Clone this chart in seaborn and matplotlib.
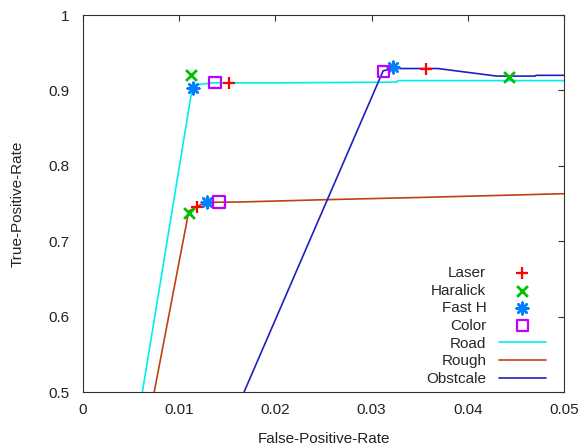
import matplotlib.pyplot as plt
import seaborn as sns

# --- ROC curves (FPR, TPR) ---
road_fpr = [0.00617, 0.0114, 0.0135, 0.020, 0.0326, 0.0327, 0.050]
road_tpr = [0.500, 0.907, 0.910, 0.910, 0.911, 0.913, 0.913]
rough_fpr = [0.0074, 0.0110, 0.01216, 0.0132, 0.0163, 0.025, 0.035, 0.050]
rough_tpr = [0.500, 0.740, 0.748, 0.7516, 0.752, 0.755, 0.758, 0.763]
obst_fpr = [0.01674, 0.0312, 0.0322, 0.0369, 0.0430, 0.0470, 0.0471, 0.050]
obst_tpr = [0.500, 0.926, 0.929, 0.929, 0.919, 0.919, 0.920, 0.920]

# --- operating points of each feature set (Road, Rough, Obstacle) ---
laser_fpr = [0.01518, 0.01185, 0.0357]
laser_tpr = [0.910, 0.746, 0.928]
haralick_fpr = [0.01123, 0.0110, 0.0443]
haralick_tpr = [0.920, 0.738, 0.918]
fasth_fpr = [0.01143, 0.0129, 0.0322]
fasth_tpr = [0.903, 0.752, 0.931]
color_fpr = [0.01372, 0.01414, 0.0312]
color_tpr = [0.910, 0.752, 0.925]

x_ticks = [0, 0.01, 0.02, 0.03, 0.04, 0.05]
x_labels = ["0", "0.01", "0.02", "0.03", "0.04", "0.05"]
y_ticks = [0.5, 0.6, 0.7, 0.8, 0.9, 1.0]
y_labels = ["0.5", "0.6", "0.7", "0.8", "0.9", "1"]

sns.set_style("white")
plt.rcParams["font.family"] = ["Liberation Sans", "DejaVu Sans"]
plt.rcParams["font.size"] = 11

fig = plt.figure(figsize=(5.79, 4.48), dpi=100)
ax = fig.add_axes([0.1434, 0.125, 0.8307, 0.8415])

# markers first so they come first in the legend
sns.scatterplot(x=laser_fpr, y=laser_tpr, marker="+", s=80, color="#ff0000",
                linewidth=1.6, label="Laser", ax=ax, zorder=3)
sns.scatterplot(x=haralick_fpr, y=haralick_tpr, marker="x", s=60, color="#00c000",
                linewidth=2.0, label="Haralick", ax=ax, zorder=3)
sns.scatterplot(x=fasth_fpr, y=fasth_tpr, marker=(8, 2, 0), s=70, color="#0080ff",
                linewidth=1.8, label="Fast H", ax=ax, zorder=3)
sns.scatterplot(x=color_fpr, y=color_tpr, marker="s", s=65, color="#c000ff",
                facecolor="none", edgecolor="#c000ff", linewidth=1.6,
                label="Color", ax=ax, zorder=3)

sns.lineplot(x=road_fpr, y=road_tpr, sort=False, color="#00eeee", linewidth=1.2,
             label="Road", ax=ax)
sns.lineplot(x=rough_fpr, y=rough_tpr, sort=False, color="#c04010", linewidth=1.2,
             label="Rough", ax=ax)
sns.lineplot(x=obst_fpr, y=obst_tpr, sort=False, color="#2020c0", linewidth=1.2,
             label="Obstcale", ax=ax)

ax.set_xlim(0, 0.05)
ax.set_ylim(0.5, 1.0)
ax.set_xticks(x_ticks)
ax.set_xticklabels(x_labels)
ax.set_yticks(y_ticks)
ax.set_yticklabels(y_labels)
ax.tick_params(direction="in", length=4, width=0.8, color="#333333",
               top=True, right=True, labelcolor="#222222")
ax.tick_params(axis="x", pad=8)
ax.tick_params(axis="y", pad=10)
for sp in ax.spines.values():
    sp.set_color("#333333")
    sp.set_linewidth(0.8)

ax.set_xlabel("False-Positive-Rate", color="#222222", labelpad=11)
ax.set_ylabel("True-Positive-Rate", color="#222222", labelpad=17)

handles, labels = ax.get_legend_handles_labels()
ax.legend(handles, labels, loc="lower right", frameon=False, markerfirst=False,
          handlelength=3.1, handletextpad=0.8, labelspacing=0.24,
          borderaxespad=0.0, bbox_to_anchor=(0.975, 0.0))

plt.savefig("out.png", dpi=100)
plt.close()
